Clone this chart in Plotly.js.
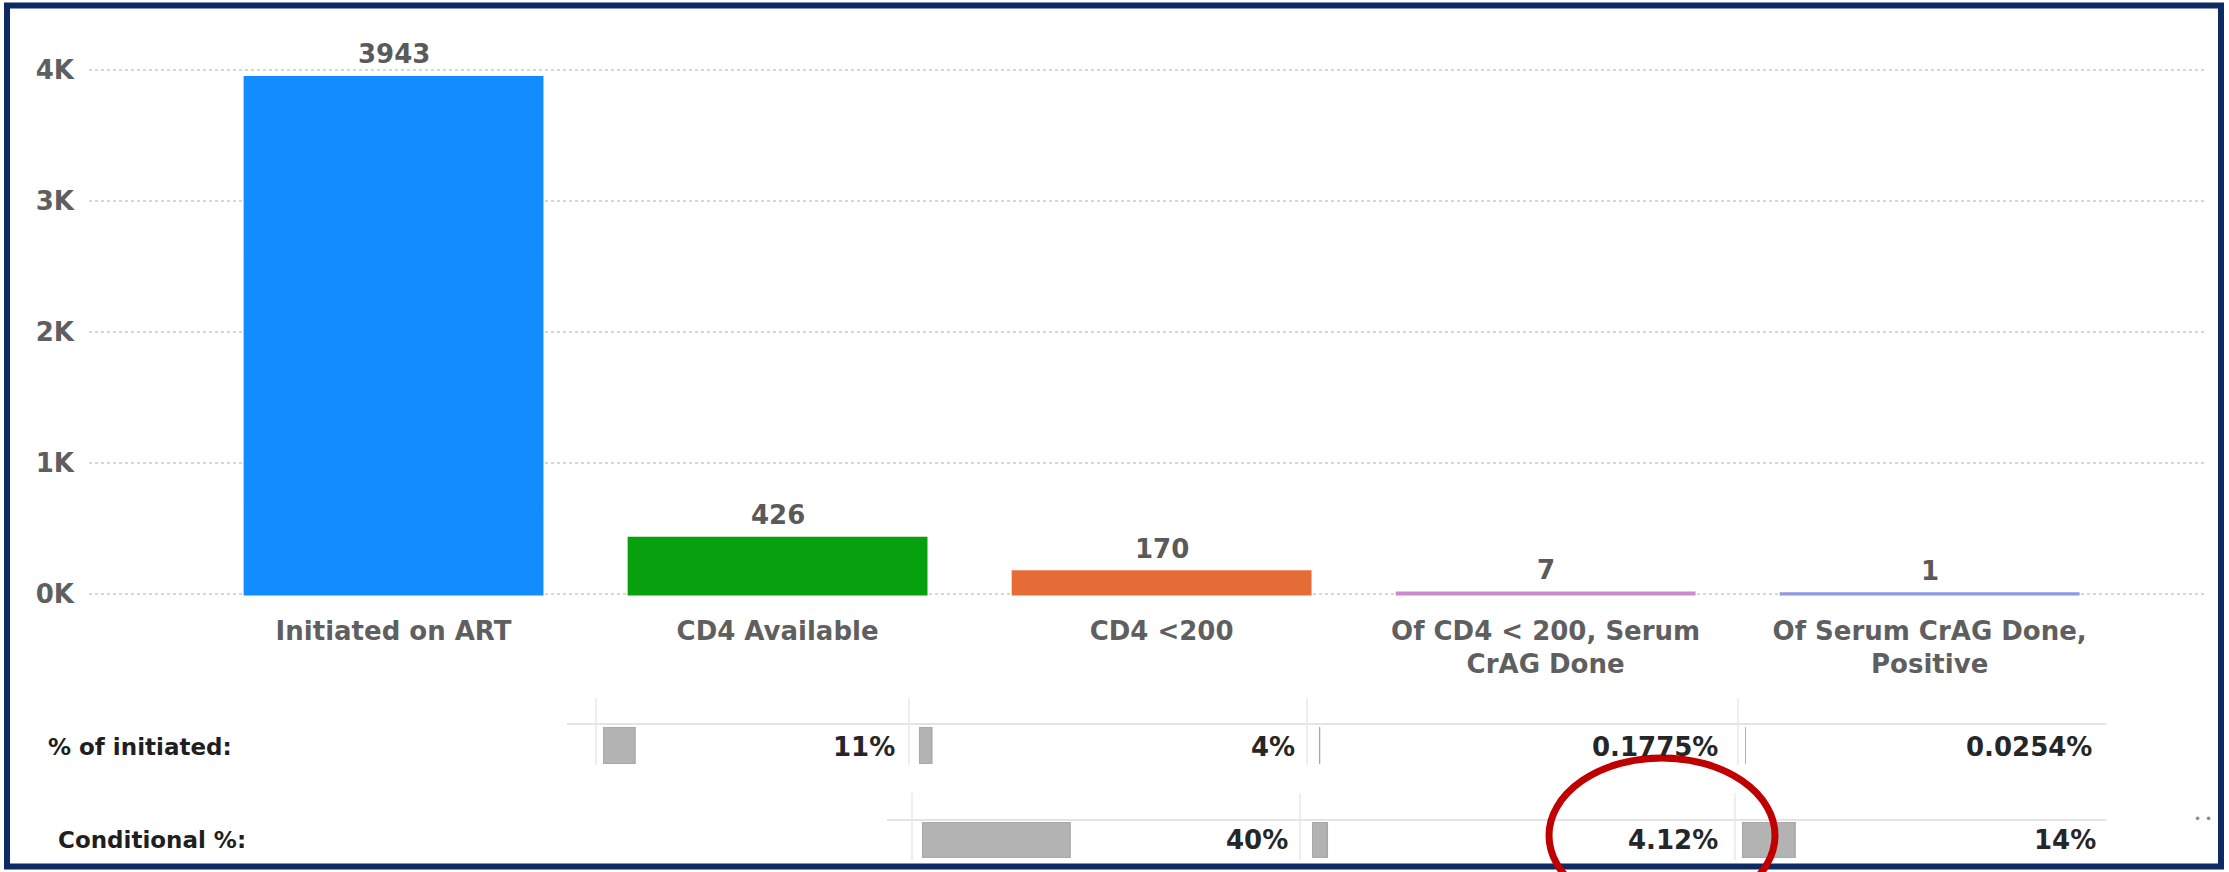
<!DOCTYPE html>
<html>
<head>
<meta charset="utf-8">
<script src="https://cdn.plot.ly/plotly-3.0.1.min.js"></script>
<style>
  html, body { margin: 0; padding: 0; background: #ffffff; }
  #chart { width: 2229px; height: 872px; }
</style>
</head>
<body>
<div id="chart"></div>
<script>
// ---------------- DATA ----------------
const categories = [
  'Initiated on ART',
  'CD4 Available',
  'CD4 &lt;200',
  'Of CD4 &lt; 200, Serum<br>CrAG Done',
  'Of Serum CrAG Done,<br>Positive'
];
const counts = [3943, 426, 170, 7, 1];
const countLabels = ['3943', '426', '170', '7', '1'];
const barColors = ['#118DFF', '#07A10F', '#E66C37', '#C98BCB', '#8F98E0'];

const yTickVals = [0, 1000, 2000, 3000, 4000];
const yTickText = ['0K', '1K', '2K', '3K', '4K'];

const rowLabels = ['% of initiated:', 'Conditional %:'];
const pctInitiatedVals = [10.8, 4.31, 0.1775, 0.0254];
const pctInitiatedText = ['11%', '4%', '0.1775%', '0.0254%'];
const conditionalVals = [39.9, 4.12, 14.3];
const conditionalText = ['40%', '4.12%', '14%'];

// ---------------- LAYOUT GEOMETRY (pixels) ----------------
const W = 2229, H = 872;
const px = v => v / W;
const py = v => 1 - v / H;
const FONT = '"DejaVu Sans", sans-serif';

const G = {
  plotL: 89, plotR: 2205, plotT: 30.7, plotB: 600.55,
  xRange: [-0.793, 4.717], yRange: [-50, 4300],
  rows: [
    { // % of initiated
      labelX: 46, labelY: 747, barTop: 727, barBot: 764, pxPer100: 296,
      barStarts: [603, 919, 1319, 1745],
      textRight: [897, 1297, 1720, 2094],
      lineY: 724, lineX0: 567, lineX1: 2106,
      seps: [596, 909, 1307, 1738], sepY0: 698, sepY1: 765
    },
    { // conditional %
      labelX: 56, labelY: 840, barTop: 822, barBot: 858, pxPer100: 371,
      barStarts: [922, 1312, 1742],
      textRight: [1290, 1720, 2098],
      lineY: 820, lineX0: 887, lineX1: 2106,
      seps: [912, 1300, 1735], sepY0: 793, sepY1: 860
    }
  ]
};

// ---------------- TRACES ----------------
const traces = [{
  type: 'bar',
  x: categories,
  y: counts,
  marker: { color: barColors, line: { color: barColors, width: 3 } },
  hoverinfo: 'x+y',
  xaxis: 'x', yaxis: 'y'
}];

const layout = {
  width: W, height: H,
  margin: { l: 0, r: 0, t: 0, b: 0 },
  paper_bgcolor: '#ffffff',
  plot_bgcolor: '#ffffff',
  showlegend: false,
  bargap: 0.227,
  font: { family: FONT, color: '#5F5F5F' },
  xaxis: {
    domain: [px(G.plotL), px(G.plotR)],
    range: G.xRange,
    type: 'category',
    showgrid: false, zeroline: false, showline: false, ticks: '',
    ticklabelstandoff: 12,
    tickfont: { family: FONT, size: 26, color: '#5F5F5F', weight: 'bold' },
    anchor: 'y', fixedrange: true
  },
  yaxis: {
    domain: [py(G.plotB), py(G.plotT)],
    range: G.yRange,
    tickvals: yTickVals, ticktext: yTickText,
    showgrid: true, gridcolor: '#D6D6D6', griddash: 'dot', gridwidth: 1.5,
    zeroline: false, showline: false, ticks: '',
    ticklabelstandoff: 14,
    tickfont: { family: FONT, size: 26, color: '#5F5F5F', weight: 'bold' },
    anchor: 'x', fixedrange: true
  },
  annotations: [],
  shapes: []
};

// bar value labels
categories.forEach((c, i) => {
  layout.annotations.push({
    x: c, y: counts[i], xref: 'x', yref: 'y',
    text: countLabels[i], showarrow: false,
    yanchor: 'bottom', yshift: 6,
    font: { family: FONT, size: 26, color: '#5A5A5A', weight: 'bold' }
  });
});

// table rows
const rowVals = [pctInitiatedVals, conditionalVals];
const rowTexts = [pctInitiatedText, conditionalText];
let axisIdx = 2;
G.rows.forEach((row, r) => {
  const yName = 'y' + (r + 2);
  const yKey = 'yaxis' + (r + 2);
  layout[yKey] = {
    domain: [py(row.barBot), py(row.barTop)],
    range: [-0.5, 0.5], visible: false, fixedrange: true,
    anchor: 'x' + axisIdx
  };
  // row label
  layout.annotations.push({
    xref: 'paper', yref: 'paper', x: px(row.labelX), y: py(row.labelY),
    xanchor: 'left', yanchor: 'middle', showarrow: false,
    text: rowLabels[r],
    font: { family: FONT, size: 23, color: '#1F1F1F', weight: 'bold' }
  });
  rowVals[r].forEach((v, i) => {
    const xName = 'x' + axisIdx;
    const xKey = 'xaxis' + axisIdx;
    const x0 = row.barStarts[i];
    layout[xKey] = {
      domain: [px(x0), px(x0 + row.pxPer100)],
      range: [0, 100], visible: false, fixedrange: true, anchor: yName
    };
    traces.push({
      type: 'bar', orientation: 'h',
      x: [v], y: [0], width: [1],
      xaxis: xName, yaxis: yName,
      marker: { color: '#B3B3B3', line: { color: '#A6A6A6', width: 1.5 } },
      hoverinfo: 'x'
    });
    layout.annotations.push({
      xref: 'paper', yref: 'paper', x: px(row.textRight[i]), y: py(row.labelY),
      xanchor: 'right', yanchor: 'middle', showarrow: false,
      text: rowTexts[r][i],
      font: { family: FONT, size: 26, color: '#262626', weight: 'bold' }
    });
    axisIdx++;
  });
  // table grid lines
  layout.shapes.push({
    type: 'line', xref: 'paper', yref: 'paper', layer: 'below',
    x0: px(row.lineX0), x1: px(row.lineX1), y0: py(row.lineY), y1: py(row.lineY),
    line: { color: '#E4E4E4', width: 2 }
  });
  row.seps.forEach(sx => {
    layout.shapes.push({
      type: 'line', xref: 'paper', yref: 'paper', layer: 'below',
      x0: px(sx), x1: px(sx), y0: py(row.sepY0), y1: py(row.sepY1),
      line: { color: '#E8E8E8', width: 1.5 }
    });
  });
});

// outer frame
layout.shapes.push({
  type: 'rect', xref: 'paper', yref: 'paper', layer: 'above',
  x0: px(7), x1: px(2221), y0: py(5.5), y1: py(866.5),
  line: { color: '#0D2A63', width: 6 }, fillcolor: 'rgba(0,0,0,0)'
});
// red highlight ellipse
layout.shapes.push({
  type: 'circle', xref: 'paper', yref: 'paper', layer: 'above',
  x0: px(1549), x1: px(1775), y0: py(758), y1: py(913),
  line: { color: '#C00000', width: 7 }, fillcolor: 'rgba(0,0,0,0)'
});
// "more options" dots
layout.annotations.push({
  xref: 'paper', yref: 'paper', x: px(2203), y: py(819),
  xanchor: 'center', yanchor: 'middle', showarrow: false,
  text: '• •', font: { family: FONT, size: 12, color: '#8A8A8A' }
});

Plotly.newPlot('chart', traces, layout, { displayModeBar: false, staticPlot: true });
</script>
</body>
</html>
